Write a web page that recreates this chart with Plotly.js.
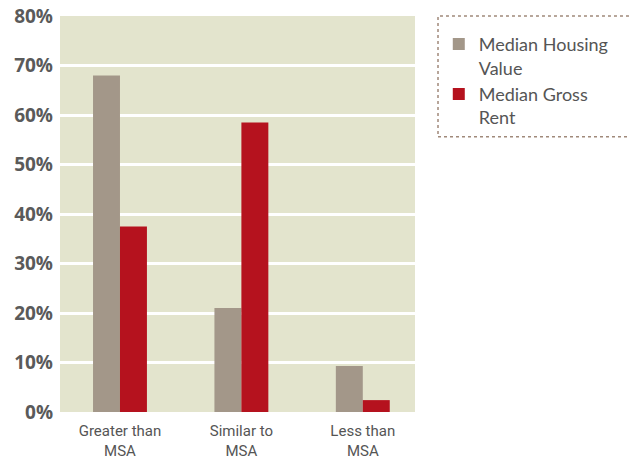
<!DOCTYPE html>
<html><head><meta charset="utf-8">
<script src="https://cdn.plot.ly/plotly-3.0.1.min.js"></script>
<style>html,body{margin:0;padding:0;background:#fff;}#chart{width:630px;height:464px;}</style>
</head><body><div id="chart"></div>
<script>
const categories = ["Greater than<br>MSA", "Similar to<br>MSA", "Less than<br>MSA"];
const housingValue = [68, 21, 9.3];
const grossRent = [37.5, 58.5, 2.4];
const seriesNames = ["Median Housing<br>Value", "Median Gross<br>Rent"];
const tickVals = [0, 10, 20, 30, 40, 50, 60, 70, 80];
const tickLabels = ["0%", "10%", "20%", "30%", "40%", "50%", "60%", "70%", "80%"];

const traces = [
  {type: "bar", x: categories, y: housingValue, name: seriesNames[0], marker: {color: "#a39789"}},
  {type: "bar", x: categories, y: grossRent, name: seriesNames[1], marker: {color: "#b5121e"}}
];
const layout = {
  width: 630, height: 464,
  margin: {l: 60, r: 215, t: 16, b: 52},
  paper_bgcolor: "#ffffff",
  plot_bgcolor: "#e3e4cd",
  barmode: "group",
  bargap: 0.556,
  bargroupgap: 0,
  showlegend: true,
  legend: {x: 1.067, xanchor: "left", y: 0.975, yanchor: "top", valign: "top", font: {family: "Lato, 'Open Sans', sans-serif", size: 18, color: "#555555"}, bgcolor: "rgba(0,0,0,0)", tracegroupgap: 0, itemwidth: 30},
  xaxis: {type: "category", range: [-0.494, 2.43], showgrid: false, zeroline: false, showline: false, ticks: "", ticklabelstandoff: 8,
    tickfont: {family: "Roboto, sans-serif", size: 15, color: "#555555"}},
  yaxis: {range: [0, 80], tickvals: tickVals, ticktext: tickLabels, showgrid: true, gridcolor: "#ffffff", gridwidth: 2.5, zeroline: false, showline: false, ticks: "", ticklabelstandoff: 6,
    tickfont: {family: "'Open Sans', sans-serif", size: 19, color: "#5a5a5a", weight: 700}},
  shapes: [{type: "rect", xref: "paper", yref: "paper", x0: 1.0648, x1: 1.62, y0: 0.695, y1: 1.0,
    line: {color: "#a0897a", width: 1.5, dash: "dot"}, fillcolor: "rgba(0,0,0,0)"}]
};
Plotly.newPlot("chart", traces, layout, {displayModeBar: false});
</script></body></html>
